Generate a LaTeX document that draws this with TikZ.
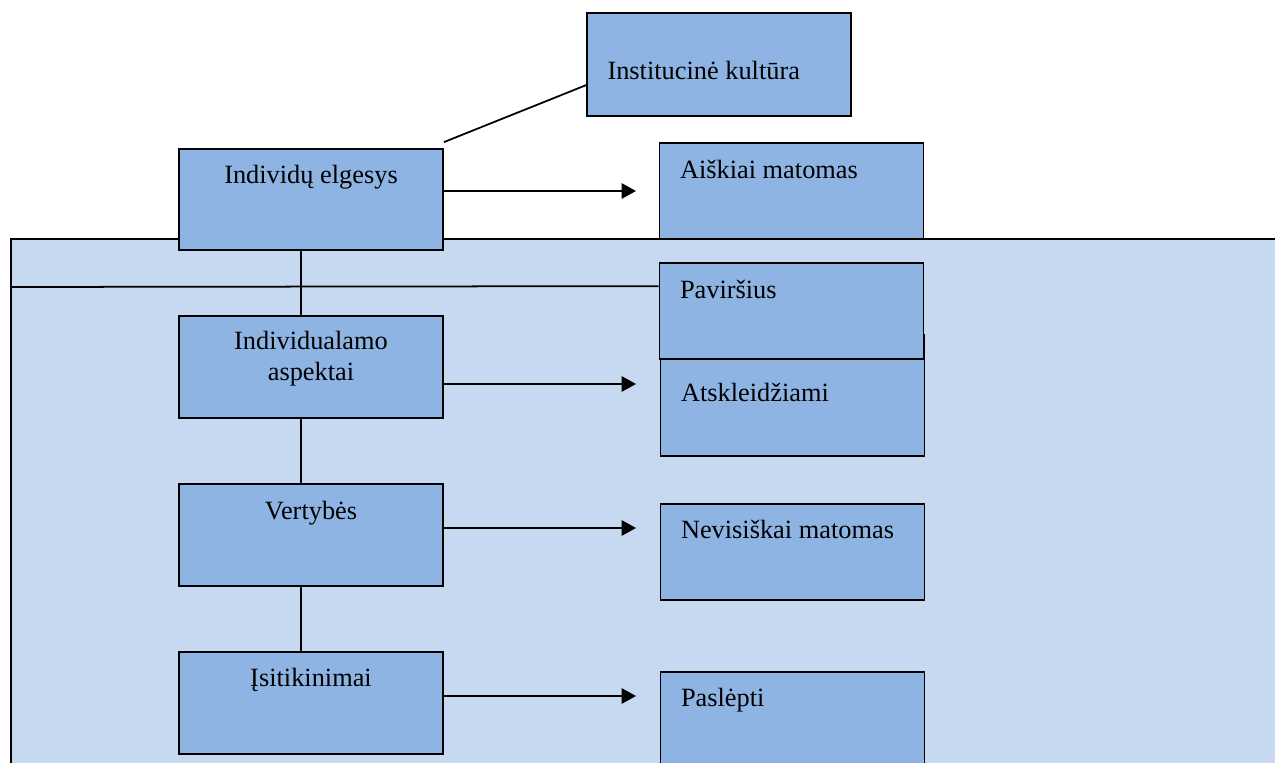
\documentclass[tikz,border=0pt]{standalone}
\usepackage{fontspec}
\setmainfont{Liberation Serif}
\usetikzlibrary{calc,arrows.meta}

\definecolor{boxblue}{RGB}{142,180,227}
\definecolor{zoneblue}{RGB}{198,217,240}

\begin{document}
\begin{tikzpicture}[x=0.02cm, y=-0.02cm,
    box/.style={draw, line width=1pt, fill=boxblue, inner sep=0pt, minimum width=5.28cm},
    txt/.style={inner sep=0pt, font=\fontsize{15}{17.6}\selectfont},
    arr/.style={-{Triangle[length=0.29cm, width=0.31cm]}, line width=1pt},
    conn/.style={line width=1pt}]
        \clip (0,0) rectangle (1275,763);

        % zone
        \node[draw, line width=1pt, fill=zoneblue, anchor=north west, minimum width=26cm, minimum height=11cm] (zone) at (10,238) {};

        % top box
        \node[box, minimum height=2.06cm] (inst) at (719,64.5) {};
        \node[txt, anchor=base west] (inst-t) at ($(inst.north west)+(21,67)$) {Institucinė kultūra};

        % left column
        \node[box, minimum height=2.02cm] (ind) at (311,199.5) {};
        \node[box, minimum height=2.04cm] (asp) at (311,367) {};
        \node[box, minimum height=2.04cm] (ver) at (311,535) {};
        \node[box, minimum height=2.04cm] (isi) at (311,703) {};
        \node[txt, anchor=base] (ind-t) at ($(ind.north)+(0,35)$) {Individų elgesys};
        \node[txt, anchor=north, align=center] (asp-t) at ($(asp.north)+(0,16)$) {Individualamo\\aspektai};
        \node[txt, anchor=base] (ver-t) at ($(ver.north)+(0,36)$) {Vertybės};
        \node[txt, anchor=base] (isi-t) at ($(isi.north)+(0,35)$) {Įsitikinimai};

        % right column
        \node[box, minimum height=1.92cm] (aisk) at (791.5,191) {};
        \node[box, minimum height=2.42cm] (atsk) at (792.5,395.5) {};
        \node[box, minimum height=1.92cm] (pav) at (791.5,311) {};
        \node[box, minimum height=1.92cm] (nev) at (792.5,552) {};
        \node[box, minimum height=1.92cm] (pasl) at (792.5,720) {};
        \node[txt, anchor=base west] (aisk-t) at ($(aisk.north west)+(21,36)$) {Aiškiai matomas};
        \node[txt, anchor=base west] (pav-t) at ($(pav.north west)+(21,36)$) {Paviršius};
        \node[txt, anchor=base west] (atsk-t) at ($(atsk.north west)+(21,67)$) {Atskleidžiami};
        \node[txt, anchor=base west] (nev-t) at ($(nev.north west)+(21,35)$) {Nevisiškai matomas};
        \node[txt, anchor=base west] (pasl-t) at ($(pasl.north west)+(21,35)$) {Paslėpti};

        % lines
        \draw[conn] ($(ind.north east)+(0,-6)$) -- ($(inst.north west)+(0,73)$);
        \draw[conn] ($(ind.south)+(-10,0)$) -- ($(asp.north)+(-10,0)$);
        \draw[conn] ($(asp.south)+(-10,0)$) -- ($(ver.north)+(-10,0)$);
        \draw[conn] ($(ver.south)+(-10,0)$) -- ($(isi.north)+(-10,0)$);
        \draw[conn] ($(zone.north west)+(0,49)$) -- ($(pav.north west)+(0,24)$);

        % arrows
        \coordinate (tip1) at (636,191);
        \coordinate (tip2) at (636,384);
        \coordinate (tip3) at (636,528);
        \coordinate (tip4) at (636,696);
        \draw[arr] (ind.east |- tip1) -- (tip1);
        \draw[arr] (asp.east |- tip2) -- (tip2);
        \draw[arr] (ver.east |- tip3) -- (tip3);
        \draw[arr] (isi.east |- tip4) -- (tip4);
    \end{tikzpicture}
\end{document}
